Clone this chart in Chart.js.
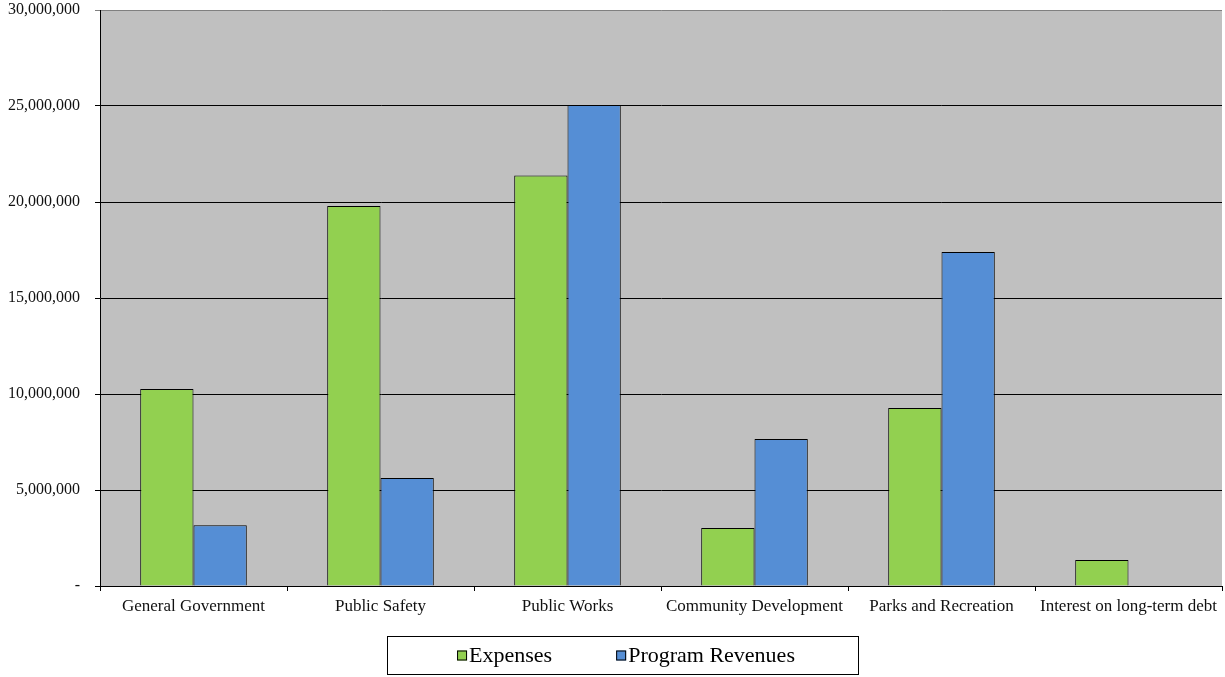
<!DOCTYPE html>
<html>
<head>
<meta charset="utf-8">
<script src="https://cdn.jsdelivr.net/npm/chart.js@4.4.1/dist/chart.umd.min.js"></script>
<style>
    html, body { margin: 0; padding: 0; background: #fff; }
    #wrap { width: 1225px; height: 677px; }
</style>
</head>
<body>
<div id="wrap"><canvas id="programChart" width="1225" height="677"></canvas></div>
<script>
// ── Data ───────────────────────────────────────────────────────────────────

const categories = [
    'General Government',
    'Public Safety',
    'Public Works',
    'Community Development',
    'Parks and Recreation',
    'Interest on long-term debt',
];
const expenses        = [10260000, 19790000, 21380000, 3020000, 9270000, 1350000];
const programRevenues = [3170000, 5630000, 25050000, 7650000, 17400000, 0];
const yTicks          = [0, 5000000, 10000000, 15000000, 20000000, 25000000, 30000000];

const SERIF = "'Liberation Serif', 'Times New Roman', serif";

// ── Plugins ────────────────────────────────────────────────────────────────

const plotBackground = {
    id: 'plotBackground',
    beforeDraw(chart) {
        const { ctx, chartArea: a } = chart;
        ctx.save();
        ctx.fillStyle = '#C0C0C0';
        ctx.fillRect(a.left, a.top, a.right - a.left, a.bottom - a.top);
        ctx.restore();
    },
};

// legend drawn in a framed box below the axis, like the spreadsheet original
const boxedLegend = {
    id: 'boxedLegend',
    afterDraw(chart) {
        const ctx = chart.ctx;
        const sets = chart.data.datasets;
        const box = { x: 387.5, y: 636.5, w: 471, h: 38 };
        const sq = 10, gapText = 2, gapItem = 64;

        ctx.save();
        ctx.font = `22px ${SERIF}`;
        const widths = sets.map(d => sq + gapText + ctx.measureText(d.label).width);
        const total  = widths.reduce((s, w) => s + w, 0) + gapItem * (sets.length - 1);
        let x = box.x + (box.w - total) / 2 + 3;
        const cy = box.y + box.h / 2;

        ctx.strokeStyle = '#000';
        ctx.lineWidth = 1;
        ctx.strokeRect(box.x, box.y, box.w, box.h);

        sets.forEach((d, i) => {
            ctx.fillStyle = d.backgroundColor;
            ctx.fillRect(x, cy - sq / 2, sq, sq);
            ctx.strokeStyle = '#000';
            ctx.strokeRect(x + 0.5, cy - sq / 2 + 0.5, sq - 1, sq - 1);
            ctx.fillStyle = '#000';
            ctx.textBaseline = 'middle';
            ctx.textAlign = 'left';
            ctx.fillText(d.label, x + sq + gapText, cy + 1);
            x += widths[i] + gapItem;
        });
        ctx.restore();
    },
};

// ── Chart ──────────────────────────────────────────────────────────────────

new Chart(document.getElementById('programChart').getContext('2d'), {
    type: 'bar',
    data: {
        labels: categories,
        datasets: [
            {
                label: 'Expenses',
                data: expenses,
                backgroundColor: '#92D050',
                borderColor: '#000',
                borderWidth: 1,
            },
            {
                label: 'Program Revenues',
                data: programRevenues,
                backgroundColor: '#558ED5',
                borderColor: '#000',
                borderWidth: 1,
            },
        ],
    },
    options: {
        responsive: false,
        animation: false,
        layout: { padding: { top: 10, left: 0, right: 3, bottom: 51 } },
        datasets: { bar: { categoryPercentage: 0.57, barPercentage: 1.0 } },
        plugins: {
            legend:  { display: false },
            tooltip: { enabled: false },
        },
        scales: {
            x: {
                afterFit(scale) {
                    scale.height = 40;
                    scale.paddingLeft = 0;
                    scale.paddingRight = 0;
                },
                grid: {
                    offset: true,
                    drawOnChartArea: false,
                    tickLength: 5,
                    color: '#000',
                },
                border: { color: '#000', width: 1 },
                ticks: {
                    color: '#111',
                    padding: 5,
                    maxRotation: 0,
                    autoSkip: false,
                    font: { family: SERIF, size: 17 },
                },
            },
            y: {
                min: 0,
                max: 30000000,
                afterFit(scale) {
                    scale.width = 100;
                    scale.paddingTop = 0;
                    scale.paddingBottom = 0;
                },
                afterBuildTicks(scale) { scale.ticks = yTicks.map(v => ({ value: v })); },
                grid: {
                    tickLength: 5,
                    color: ctx => (ctx.index === yTicks.length - 1 ? '#808080' : '#000'),
                },
                border: { color: '#000', width: 1 },
                ticks: {
                    color: '#111',
                    padding: 15,
                    font: { family: SERIF, size: 16 },
                    callback: v => (v === 0 ? '-' : Number(v).toLocaleString('en-US')),
                },
            },
        },
    },
    plugins: [plotBackground, boxedLegend],
});
</script>
</body>
</html>
